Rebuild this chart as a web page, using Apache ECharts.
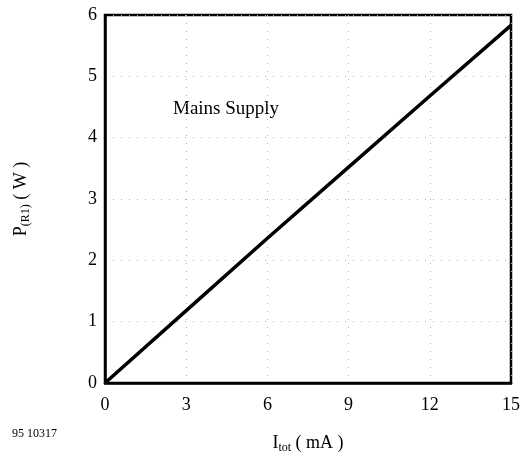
<!DOCTYPE html>
<html><head><meta charset="utf-8">
<script src="https://cdn.jsdelivr.net/npm/echarts@6/dist/echarts.min.js"></script>
<style>html,body{margin:0;padding:0;background:#fff}#c{width:527px;height:460px}</style>
</head><body><div id="c"></div>
<script>
const currentMA = [0, 3, 6, 9, 12, 15];
const powerW = [0, 1.18, 2.36, 3.52, 4.68, 5.83];
const xTicks = [0, 3, 6, 9, 12, 15];
const yTicks = [0, 1, 2, 3, 4, 5, 6];
const curveLabel = 'Mains Supply';
const figId = '95 10317';

const chart = echarts.init(document.getElementById('c'));
const serif = '"Liberation Serif", "DejaVu Serif", serif';
chart.setOption({
  animation: false,
  backgroundColor: '#fff',
  textStyle: {fontFamily: serif},
  grid: {left: 105, right: 16, top: 15, bottom: 77, show: true, borderColor: '#000', borderWidth: 2.5, backgroundColor: 'transparent'},
  xAxis: {
    type: 'value', min: xTicks[0], max: xTicks[xTicks.length-1], interval: 3,
    axisLine: {show: true, lineStyle: {color: '#000', width: 2.5}},
    axisTick: {show: false},
    axisLabel: {color: '#000', fontSize: 18, fontFamily: serif, margin: 13},
    splitLine: {show: true, lineStyle: {color: '#b0b0b0', type: [1, 7], width: 1}},
    name: 'I{sub|tot} ( mA )', nameLocation: 'middle', nameGap: 50,
    nameTextStyle: {color: '#000', fontSize: 18, fontFamily: serif,
      rich: {sub: {fontSize: 12, padding: [9, 0, 0, 0], fontFamily: serif, color: '#000'}}}
  },
  yAxis: {
    type: 'value', min: yTicks[0], max: yTicks[yTicks.length-1], interval: 1,
    axisLine: {show: true, lineStyle: {color: '#000', width: 2.5}},
    axisTick: {show: false},
    axisLabel: {color: '#000', fontSize: 18, fontFamily: serif, margin: 8},
    splitLine: {show: true, lineStyle: {color: '#b0b0b0', type: [1, 7], width: 1}},
    name: 'P{sub|(R1)} ( W )', nameLocation: 'middle', nameGap: 73, nameRotate: 90,
    nameTextStyle: {color: '#000', fontSize: 18, fontFamily: serif,
      rich: {sub: {fontSize: 12, padding: [9, 0, 0, 0], fontFamily: serif, color: '#000'}}}
  },
  series: [{
    type: 'line', data: currentMA.map((x, i) => [x, powerW[i]]),
    showSymbol: false, lineStyle: {color: '#000', width: 3.5}, clip: false
  }],
  graphic: [
    {type: 'text', left: 173, top: 100, style: {text: curveLabel, font: '19px ' + serif, fill: '#000'}},
    {type: 'text', left: 12, top: 428, style: {text: figId, font: '12px ' + serif, fill: '#000'}}
  ]
});
</script></body></html>
